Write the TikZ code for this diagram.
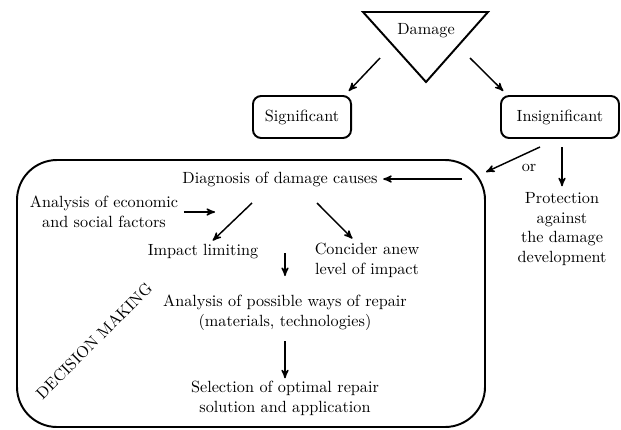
\documentclass[tikz,border=0pt]{standalone}
\usetikzlibrary{arrows,positioning}
\tikzset{
  %Define standard arrow tip
  >=stealth',
  %Define style for boxes
  kasten/.style={
    rectangle,
    rounded corners=5pt,
    draw=black, very thick,
    minimum height=25.9pt,
    text centered},
  % Define arrow style
  pfeil/.style={
    ->,
    line width=0.9pt},
  % Define style for plain text
  txt/.style={
    align=center,
    font=\fontsize{10}{12.3}\selectfont}
}

\begin{document}
\begin{tikzpicture}[x=0.617pt,y=-0.617pt]
  \useasboundingbox (0,0) rectangle (621,429);
  % damage triangle
  \draw[very thick] (363,12) -- (488,12) -- (426,82) -- cycle;
  \node[txt] (damage) at (426,31) {Damage};
  \node[kasten,minimum width=60.5pt] (sig) at (302,117) {Significant};
  \node[kasten,minimum width=72.8pt] (insig) at (560,117) {Insignificant};
  \coordinate (dl) at (380,58);
  \coordinate (dr) at (470,58);
  \draw[pfeil] (dl) -- ([shift={(-2pt,2.5pt)}]sig.north east);
  \draw[pfeil] (dr) -- ([shift={(2pt,2.5pt)}]insig.north west);
  % decision making frame
  \draw[very thick,rounded corners=24.7pt] (17,160) rectangle (485,427);
  \node[txt,rotate=45] (dm) at (94,341) {DECISION MAKING};
  \node[txt] (diag) at (280,179) {Diagnosis of damage causes};
  \node[txt] (prot) at (562,229) {Protection\\against\\the damage\\development};
  \node[txt] (or) at (529,168) {or};
  \coordinate (ia) at (540,147);
  \coordinate (ib) at (486,172);
  \coordinate (da) at (462,179);
  \draw[pfeil] (ia) -- (ib);
  \draw[pfeil] ([yshift=-5pt]insig.south -| prot.north) -- (prot.north);
  \draw[pfeil] (da) -- (diag.east);
  \node[txt] (econ) at (104,212) {Analysis of economic\\and social factors};
  \node[txt] (impact) at (203,252) {Impact limiting};
  \node[txt] (anew) at (367,260) {Concider anew\\level of impact};
  \node[txt] (ways) at (285,313) {Analysis of possible ways of repair\\(materials, technologies)};
  \node[txt] (sel) at (285,398) {Selection of optimal repair\\solution and application};
  \coordinate (ea) at (215,211);
  \coordinate (la) at (252,203);
  \coordinate (ra) at (317,203);
  \coordinate (ma) at (285,253);
  \draw[pfeil] (econ.east) -- (econ.east -| ea);
  \draw[pfeil] (la) -- ([shift={(6pt,-1pt)}]impact.north);
  \draw[pfeil] (ra) -- ([shift={(-9pt,-1pt)}]anew.north);
  \draw[pfeil] (ma) -- ++(0,23);
  \draw[pfeil] ([yshift=-3pt]ways.south) -- ([yshift=-2pt]sel.north);
\end{tikzpicture}
\end{document}
